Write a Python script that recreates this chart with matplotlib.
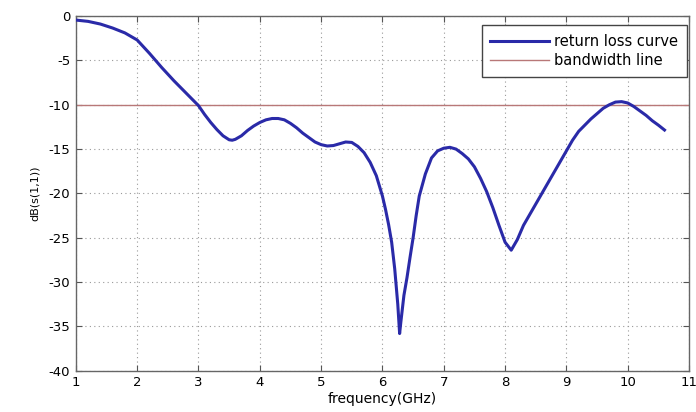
import matplotlib.pyplot as plt

plt.rcParams['font.family'] = ['DejaVu Sans']
plt.rcParams['axes.unicode_minus'] = False

# ── data ─────────────────────────────────────────────────────────────────────
freq = [1.0, 1.2, 1.4, 1.6, 1.8, 2.0, 2.2, 2.4, 2.6, 2.8,
        3.0, 3.1, 3.2, 3.3, 3.4, 3.5, 3.55, 3.6, 3.7, 3.8,
        3.9, 4.0, 4.1, 4.2, 4.3, 4.4, 4.5, 4.6, 4.7, 4.8,
        4.9, 5.0, 5.1, 5.2, 5.3, 5.4, 5.5, 5.6, 5.7, 5.8,
        5.9, 6.0, 6.05, 6.1, 6.15, 6.2, 6.25, 6.28, 6.3, 6.35,
        6.4, 6.45, 6.5, 6.55, 6.6, 6.7, 6.8, 6.9, 7.0, 7.1,
        7.2, 7.3, 7.4, 7.5, 7.6, 7.7, 7.8, 7.9, 8.0, 8.1,
        8.2, 8.3, 8.4, 8.5, 8.6, 8.7, 8.8, 8.9, 9.0, 9.1,
        9.2, 9.3, 9.4, 9.5, 9.6, 9.7, 9.8, 9.9, 10.0, 10.1,
        10.2, 10.3, 10.4, 10.5, 10.6]
s11 = [-0.45, -0.6, -0.9, -1.35, -1.9, -2.7, -4.2, -5.8, -7.3, -8.7,
       -10.1, -11.1, -12.0, -12.8, -13.5, -13.95, -14.0, -13.9, -13.5, -12.9,
       -12.4, -12.0, -11.7, -11.55, -11.55, -11.7, -12.1, -12.6, -13.2, -13.7,
       -14.2, -14.5, -14.65, -14.6, -14.4, -14.2, -14.25, -14.7, -15.4, -16.5,
       -18.0, -20.3, -21.8, -23.5, -25.5, -28.5, -32.5, -35.8, -34.5, -31.5,
       -29.5, -27.2, -25.0, -22.5, -20.3, -17.8, -16.0, -15.2, -14.9, -14.8,
       -15.0, -15.5, -16.1, -17.0, -18.3, -19.8, -21.6, -23.6, -25.5, -26.4,
       -25.2, -23.6, -22.4, -21.2, -20.0, -18.8, -17.6, -16.4, -15.2, -14.0,
       -13.0, -12.3, -11.6, -11.0, -10.4, -10.0, -9.7, -9.65, -9.8, -10.2,
       -10.7, -11.2, -11.8, -12.3, -12.85]
bw_level = -10
xticks = list(range(1, 12))
yticks = list(range(-40, 1, 5))

fig = plt.figure(figsize=(6.96, 4.12), dpi=100)
ax = fig.add_axes([0.109, 0.1, 0.881, 0.861])

ax.plot(freq, s11, color='#2a2aa8', linewidth=2.2, label='return loss curve', zorder=3)
ax.axhline(bw_level, color='#b87878', linewidth=1.0, label='bandwidth line', zorder=2)

ax.set_xlim(1, 11)
ax.set_ylim(-40, 0)
ax.set_xticks(xticks)
ax.set_yticks(yticks)
ax.grid(True, linestyle=(0, (1, 3)), color='#999999', linewidth=0.8)
ax.tick_params(direction='in', top=True, right=True, length=4,
               labelsize=9.5, color='#555555', pad=4)
for spine in ax.spines.values():
    spine.set_color('#666666')
    spine.set_linewidth(1.0)

ax.set_xlabel('frequency(GHz)', fontsize=10, labelpad=2)
ax.set_ylabel('dB(s(1,1))', fontsize=8, labelpad=6)

leg = ax.legend(loc='upper right', bbox_to_anchor=(0.997, 0.975), borderaxespad=0,
                fontsize=10.5, fancybox=False, framealpha=1, edgecolor='#444444',
                handlelength=4.0, handletextpad=0.4, borderpad=0.6,
                labelspacing=0.3)
leg.get_frame().set_linewidth(1.0)

fig.savefig('out.png', dpi=100)
